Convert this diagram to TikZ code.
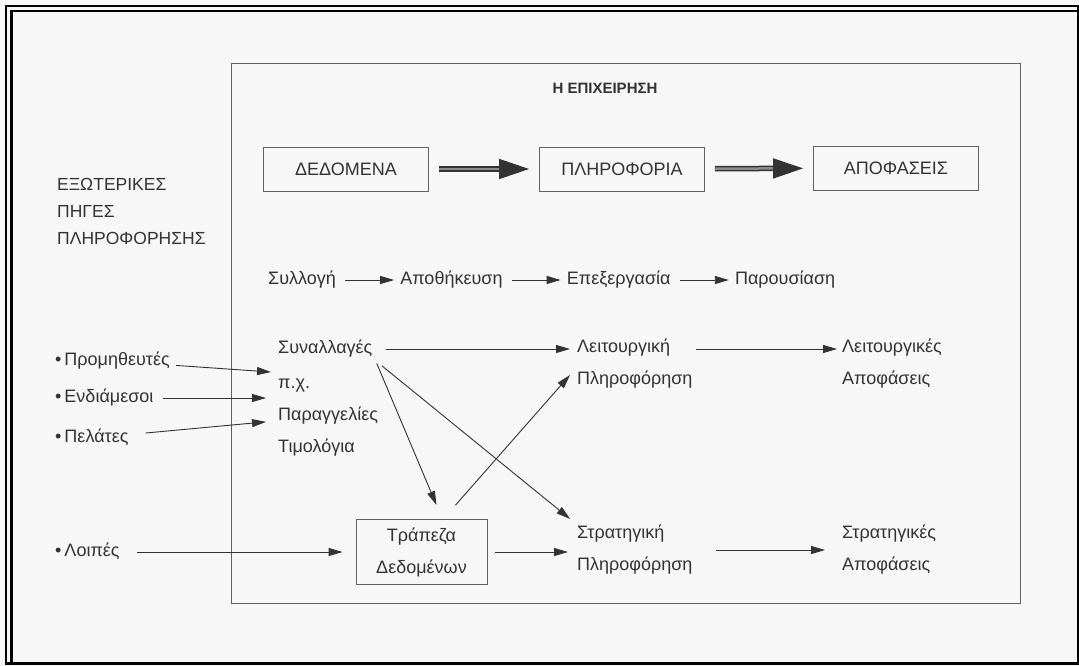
\documentclass[tikz,border=0pt]{standalone}
\usepackage{fontspec}
\setmainfont{Liberation Sans}
\usetikzlibrary{arrows.meta,positioning}

\colorlet{ink}{black!80}
\colorlet{rule}{black!62}

\begin{document}
\begin{tikzpicture}[x=1pt, y=-1pt,
  font=\fontsize{18}{32}\selectfont, text=ink,
  lbl/.style={inner sep=3pt, text height=13pt, text depth=4pt, anchor=west},
  two/.style={inner sep=3pt, align=left, anchor=west},
  capbox/.style={draw=rule, thick, minimum width=165pt, minimum height=44pt, font=\fontsize{18}{20}\selectfont},
  ar/.style={-{Triangle[length=14pt, width=8pt]}, draw=ink, line width=0.9pt},
  dbl/.style={-{Triangle[length=30pt, width=20pt]}, draw=ink, double=black!45, line width=1.5pt, double distance=2.5pt}]
\useasboundingbox (0,0) rectangle (1079,666);
\fill[black!3] (0,0) rectangle (1079,666);
\draw[line width=2.5pt] (6,6) rectangle (1077.8,663.5);
\draw[line width=2.5pt] (11.3,11) rectangle (1077.8,663.5);
\node[draw=rule, thick, minimum width=789pt, minimum height=540pt] (firm) at (625.5,333) {};
\node[font=\fontsize{15}{17}\selectfont\bfseries] (title) at (605,88) {Η ΕΠΙΧΕΙΡΗΣΗ};
\node[capbox] (data) at (346,169) {ΔΕΔΟΜΕΝΑ};
\node[capbox] (info) at (622,169) {ΠΛΗΡΟΦΟΡΙΑ};
\node[capbox] (dec) at (896,168) {ΑΠΟΦΑΣΕΙΣ};
\draw[dbl, shorten <=10pt, shorten >=10pt] (data) -- (info);
\draw[dbl, shorten <=10pt, shorten >=10pt] (info) -- (dec);
\node[two, font=\fontsize{17.5}{27}\selectfont] (ext) at (54,211) {ΕΞΩΤΕΡΙΚΕΣ\\ΠΗΓΕΣ\\ΠΛΗΡΟΦΟΡΗΣΗΣ};
\node[lbl] (coll) at (265,280) {Συλλογή};
\node[lbl, right=58pt of coll] (store) {Αποθήκευση};
\node[lbl, right=58pt of store] (proc) {Επεξεργασία};
\node[lbl, right=58pt of proc] (pres) {Παρουσίαση};
\draw[ar, shorten <=6pt, shorten >=3pt] (coll) -- (store);
\draw[ar, shorten <=6pt, shorten >=3pt] (store) -- (proc);
\draw[ar, shorten <=6pt, shorten >=3pt] (proc) -- (pres);
\node[lbl] (trans) at (275,349) {Συναλλαγές};
\node[lbl] (eg) at (275,384) {π.χ.};
\node[lbl] (orders) at (275,416) {Παραγγελίες};
\node[lbl] (invoices) at (275,448) {Τιμολόγια};
\node[lbl] (supp) at (52,361) {•\,Προμηθευτές};
\node[lbl] (inter) at (52,398) {•\,Ενδιάμεσοι};
\node[lbl] (cust) at (52,438) {•\,Πελάτες};
\node[lbl] (other) at (52,552) {•\,Λοιπές};
\node[two] (opinfo) at (574,364) {Λειτουργική\\Πληροφόρηση};
\node[two] (opdec) at (839,364) {Λειτουργικές\\Αποφάσεις};
\node[two] (stinfo) at (574,550) {Στρατηγική\\Πληροφόρηση};
\node[two] (stdec) at (839,550) {Στρατηγικές\\Αποφάσεις};
\node[draw=rule, thick, minimum width=131pt, minimum height=65pt, align=center, inner sep=3pt] (bank) at (421.5,552) {Τράπεζα\\Δεδομένων};
\draw[ar, shorten <=3pt, shorten >=4pt] (supp) -- (eg.north west);
\draw[ar, shorten <=6pt, shorten >=9pt] (inter) -- (inter -| orders.west);
\draw[ar, shorten <=14pt, shorten >=9pt] (cust) -- ([yshift=-5pt]orders.west);
\draw[ar, shorten <=14pt, shorten >=13pt] (other) -- (bank);
\draw[ar, shorten <=10pt, shorten >=4pt] (trans.east) -- (trans.east -| opinfo.west);
\draw[ar, shorten >=2pt] (opinfo.east |- trans) -- (opdec.west |- trans);
\draw[ar, shorten <=3pt] (trans.south east) -- ([xshift=15pt, yshift=14pt]bank.north);
\draw[ar, shorten <=8pt, shorten >=5pt] (trans.south east) -- (stinfo.north west);
\draw[ar] ([xshift=34pt, yshift=14pt]bank.north) -- ([xshift=-4pt, yshift=-11pt]opinfo.west);
\draw[ar, shorten <=8pt, shorten >=6pt] (bank.east) -- (bank.east -| stinfo.west);
\draw[ar, shorten <=20pt, shorten >=14pt] (stinfo) -- (stdec);
\end{tikzpicture}
\end{document}
